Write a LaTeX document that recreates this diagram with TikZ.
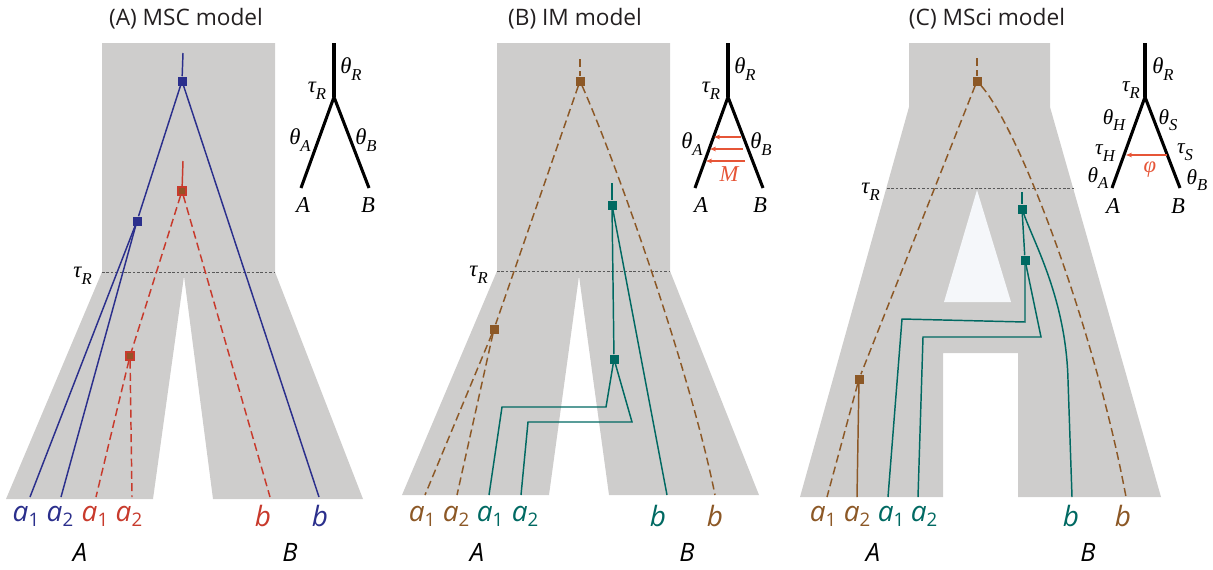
\documentclass[tikz,border=0pt]{standalone}
\usepackage{fontspec}
\setsansfont{Open Sans}
\newfontfamily\grk{Liberation Serif}
\usetikzlibrary{arrows.meta}
\definecolor{popc}{RGB}{206,205,204}
\definecolor{holec}{RGB}{245,247,250}
\definecolor{gblue}{RGB}{43,47,140}
\definecolor{gred}{RGB}{200,58,44}
\definecolor{gbrown}{RGB}{140,88,38}
\definecolor{gteal}{RGB}{0,105,98}
\definecolor{migc}{RGB}{230,85,55}
\definecolor{titlec}{RGB}{35,31,32}
\newcommand{\sbx}[1]{\raisebox{-0.2em}{\upshape\fontsize{14}{14}\selectfont #1}}
\newcommand{\gsym}[2]{#1\raisebox{-0.3em}{\fontsize{12.5}{12.5}\selectfont #2}}
\begin{document}
\begin{tikzpicture}[x=0.75pt,y=-0.75pt,
  pop/.style={fill=popc},
  gene/.style={line width=1.1pt},
  dsh/.style={dash pattern=on 6pt off 3.2pt},
  coal/.style={rectangle, inner sep=0pt, minimum size=6.75pt, fill=#1},
  redcoal/.style={rectangle, inner sep=0pt, minimum size=6pt, fill=gbrown!85!gred, draw=gred, line width=0.8pt},
  tauline/.style={line width=0.55pt, draw=black!65, dash pattern=on 2pt off 1.3pt},
  sp/.style={line width=2.3pt, line join=round},
  lab/.style={inner sep=0pt, font=\grk\itshape\fontsize{17}{17}\selectfont},
  slab/.style={inner sep=0pt, font=\grk\itshape\fontsize{16}{16}\selectfont},
  tip/.style={inner sep=0pt, anchor=base, font=\sffamily\itshape\fontsize{21}{21}\selectfont},
  sp lab/.style={inner sep=0pt, anchor=base, font=\sffamily\itshape\fontsize{19}{19}\selectfont},
  ttl/.style={inner sep=0pt, anchor=base, text=titlec, font=\sffamily\fontsize{17}{17}\selectfont},
  mig/.style={draw=migc, line width=0.8pt, -{Stealth[length=4.5pt,width=3.5pt]}}
]
\useasboundingbox (0,0) rectangle (1213,569);

% ---------------- titles
\node[ttl] (tA) at (186,25) {(A) MSC model};
\node[ttl] (tB) at (575,25) {(B) IM model};
\node[ttl] (tC) at (987,25) {(C) MSci model};

% ---------------- population shapes
\fill[pop] (102,43) -- (275,43) -- (275,272) -- (363,499) -- (213,499) -- (184,276)
  -- (153,499) -- (6,499) -- (102,272) -- cycle;
\fill[pop] (497,43) -- (670,43) -- (670,271) -- (759,495) -- (609,495) -- (579,276)
  -- (549,495) -- (402,495) -- (497,271) -- cycle;
\fill[pop] (909,43) -- (1050,43) -- (1050,107) -- (1161,497) -- (1018,497) -- (1018,353)
  -- (943,353) -- (943,497) -- (800,497) -- (909,107) -- cycle;
\fill[holec] (977,190) -- (1011,302) -- (944,302) -- cycle;

% tau lines
\draw[tauline] (102,272) -- (275,272);
\node[lab, anchor=east] (tauA) at (92,276) {\gsym{τ}{R}};
\draw[tauline] (497,271) -- (670,271);
\node[lab, anchor=east] (tauB) at (488,275) {\gsym{τ}{R}};
\draw[tauline] (887,188) -- (1074,188);
\node[lab, anchor=east] (tauC) at (880,192) {\gsym{τ}{R}};

% ---------------- insets
% A
\coordinate (iAt) at (334,43); \coordinate (iAf) at (334,97);
\coordinate (iAl) at (301,188); \coordinate (iAr) at (369,188);
\draw[sp] (iAt) -- (iAf); \draw[sp] (iAl) -- (iAf) -- (iAr);
\node[lab] (iAthR) at (351,69) {\gsym{θ}{R}};
\node[lab] (iAtaR) at (317,91) {\gsym{τ}{R}};
\node[lab] (iAthA) at (300,140) {\gsym{θ}{A}};
\node[lab] (iAthB) at (366,140) {\gsym{θ}{B}};
\node[lab] (iAA) at (303,205) {A};
\node[lab] (iAB) at (368,205) {B};
% B
\coordinate (iBt) at (728,43); \coordinate (iBf) at (728,97);
\coordinate (iBl) at (695,188); \coordinate (iBr) at (763,188);
\draw[sp] (iBt) -- (iBf); \draw[sp] (iBl) -- (iBf) -- (iBr);
\node[lab] (iBthR) at (745,69) {\gsym{θ}{R}};
\node[lab] (iBtaR) at (711,91) {\gsym{τ}{R}};
\node[lab] (iBthA) at (692,144) {\gsym{θ}{A}};
\node[lab] (iBthB) at (761,144) {\gsym{θ}{B}};
\node[lab, text=migc] (iBM) at (729,174) {M};
\node[lab] (iBA) at (701,205) {A};
\node[lab] (iBB) at (760,205) {B};
\coordinate (m1s) at (741,137); \coordinate (m1e) at (714,137);
\coordinate (m2s) at (743,149); \coordinate (m2e) at (710,149);
\coordinate (m3s) at (745,161); \coordinate (m3e) at (706,161);
\draw[mig] (m1s) -- (m1e); \draw[mig] (m2s) -- (m2e); \draw[mig] (m3s) -- (m3e);
% C
\coordinate (iCt) at (1145,43); \coordinate (iCf) at (1145,97);
\coordinate (iCl) at (1112,188); \coordinate (iCr) at (1180,188);
\draw[sp] (iCt) -- (iCf); \draw[sp] (iCl) -- (iCf) -- (iCr);
\node[lab] (iCthR) at (1163,69) {\gsym{θ}{R}};
\node[slab] (iCtaR) at (1131,90) {\gsym{τ}{R}};
\node[slab] (iCthH) at (1114,120) {\gsym{θ}{H}};
\node[slab] (iCthS) at (1168,120) {\gsym{θ}{S}};
\node[slab] (iCtaH) at (1105,153) {\gsym{τ}{H}};
\node[slab] (iCtaS) at (1185,152) {\gsym{τ}{S}};
\node[slab] (iCthA) at (1098,178) {\gsym{θ}{A}};
\node[slab] (iCthB) at (1197,180) {\gsym{θ}{B}};
\node[lab, text=migc] (iCphi) at (1150,170) {φ};
\node[lab] (iCA) at (1113,206) {A};
\node[lab] (iCB) at (1178,206) {B};
\coordinate (hS) at (1167,155); \coordinate (hH) at (1126,155);
\draw[mig] (hS) -- (hH);

% ---------------- panel A gene trees
\coordinate (A0) at (183,53);
\node[coal=gblue] (A1) at (182,81) {};
\node[coal=gblue] (A2) at (137,221) {};
\coordinate (Ab1) at (30,497); \coordinate (Ab2) at (61,497); \coordinate (Abb) at (319,497);
\draw[gene,gblue] (A0) -- (A1);
\draw[gene,gblue] (A1) -- (A2);
\draw[gene,gblue] (A1) -- (Abb);
\draw[gene,gblue] (A2) -- (Ab1);
\draw[gene,gblue] (A2) -- (Ab2);
\coordinate (R0) at (183,161);
\node[redcoal] (R1) at (182,191) {};
\node[redcoal] (R2) at (130,356) {};
\coordinate (Ar1) at (96,497); \coordinate (Ar2) at (132,497); \coordinate (Arb) at (270,497);
\draw[gene,gred] (R0) -- (R1);
\draw[gene,gred,dsh] (R1) -- (R2);
\draw[gene,gred,dsh] (R1) -- (Arb);
\draw[gene,gred,dsh] (R2) -- (Ar1);
\draw[gene,gred,dsh] (R2) -- (Ar2);

\node[tip,text=gblue] (lA1) at (26,521) {a\sbx{1}};
\node[tip,text=gblue] (lA2) at (60,521) {a\sbx{2}};
\node[tip,text=gred] (lA3) at (95,521) {a\sbx{1}};
\node[tip,text=gred] (lA4) at (129,521) {a\sbx{2}};
\node[tip,text=gred] (lA5) at (263,526) {b};
\node[tip,text=gblue] (lA6) at (320,526) {b};
\node[sp lab] (sAA) at (80,561) {A};
\node[sp lab] (sAB) at (290,561) {B};

% ---------------- panel B gene trees
\coordinate (B0) at (580,59);
\node[coal=gbrown] (Bn1) at (580,81) {};
\node[coal=gbrown] (Bn2) at (494,329) {};
\coordinate (Ba1) at (425,495); \coordinate (Ba2) at (457,495); \coordinate (Bb) at (715,495);
\draw[gene,gbrown,dsh] (B0) -- (Bn1);
\draw[gene,gbrown,dsh] (Bn1) -- (Bn2);
\draw[gene,gbrown,dsh] (Bn1) .. controls (615,160) and (690,370) .. (Bb);
\draw[gene,gbrown,dsh] (Bn2) -- (Ba1);
\draw[gene,gbrown,dsh] (Bn2) -- (Ba2);
\coordinate (T0) at (612,183);
\node[coal=gteal] (Tn1) at (612,205) {};
\node[coal=gteal] (Tn2) at (614,359) {};
\coordinate (Ta1) at (489,495); \coordinate (Ta2) at (521,495); \coordinate (Tb) at (667,495);
\coordinate (Tk1) at (606,407); \coordinate (Tk2) at (502,407);
\coordinate (Tk3) at (632,422); \coordinate (Tk4) at (528,422);
\draw[gene,gteal] (T0) -- (Tn1);
\draw[gene,gteal] (Tn1) -- (Tn2);
\draw[gene,gteal] (Tn1) -- (Tb);
\draw[gene,gteal] (Tn2) -- (Tk1) -- (Tk2) -- (Ta1);
\draw[gene,gteal] (Tn2) -- (Tk3) -- (Tk4) -- (Ta2);

\node[tip,text=gbrown] (lB1) at (422,521) {a\sbx{1}};
\node[tip,text=gbrown] (lB2) at (456,521) {a\sbx{2}};
\node[tip,text=gteal] (lB3) at (490,521) {a\sbx{1}};
\node[tip,text=gteal] (lB4) at (525,521) {a\sbx{2}};
\node[tip,text=gteal] (lB5) at (658,526) {b};
\node[tip,text=gbrown] (lB6) at (715,526) {b};
\node[sp lab] (sBA) at (477,561) {A};
\node[sp lab] (sBB) at (687,561) {B};

% ---------------- panel C gene trees
\coordinate (C0) at (977,58);
\node[coal=gbrown] (Cn1) at (977,81) {};
\node[coal=gbrown] (Cn2) at (859,379) {};
\coordinate (Ca1) at (827,497); \coordinate (Ca2) at (857,497); \coordinate (Cb) at (1126,497);
\draw[gene,gbrown,dsh] (C0) -- (Cn1);
\draw[gene,gbrown,dsh] (Cn1) -- (Cn2);
\draw[gene,gbrown,dsh] (Cn1) .. controls (1020,130) and (1095,330) .. (Cb);
\draw[gene,gbrown,dsh] (Cn2) -- (Ca1);
\draw[gene,gbrown] (Cn2) -- (Ca2);
\coordinate (U0) at (1022,192);
\node[coal=gteal] (Un1) at (1022,209) {};
\node[coal=gteal] (Un2) at (1025,260) {};
\coordinate (Ua1) at (888,497); \coordinate (Ua2) at (918,497); \coordinate (Ub) at (1072,497);
\coordinate (Uk1) at (1025,322); \coordinate (Uk2) at (902,319);
\coordinate (Uk3) at (1041,337); \coordinate (Uk4) at (923,337);
\coordinate (Uc) at (1068,380);
\draw[gene,gteal] (U0) -- (Un1);
\draw[gene,gteal] (Un1) -- (Un2);
\draw[gene,gteal] (Un1) .. controls (1035,245) and (1066,300) .. (Uc) -- (Ub);
\draw[gene,gteal] (Un2) -- (Uk1) -- (Uk2) -- (Ua1);
\draw[gene,gteal] (Un2) -- (Uk3) -- (Uk4) -- (Ua2);

\node[tip,text=gbrown] (lC1) at (823,521) {a\sbx{1}};
\node[tip,text=gbrown] (lC2) at (857,521) {a\sbx{2}};
\node[tip,text=gteal] (lC3) at (891,521) {a\sbx{1}};
\node[tip,text=gteal] (lC4) at (924,521) {a\sbx{2}};
\node[tip,text=gteal] (lC5) at (1071,526) {b};
\node[tip,text=gbrown] (lC6) at (1123,526) {b};
\node[sp lab] (sCA) at (873,561) {A};
\node[sp lab] (sCB) at (1088,561) {B};
\end{tikzpicture}
\end{document}
